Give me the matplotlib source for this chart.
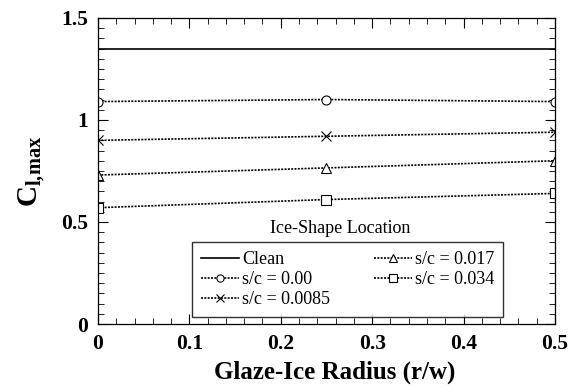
import matplotlib.pyplot as plt
from matplotlib.ticker import MultipleLocator, FuncFormatter

# data
radius = [0.0, 0.25, 0.5]
clean = [1.35, 1.35, 1.35]
sc_000 = [1.09, 1.10, 1.09]
sc_0085 = [0.90, 0.92, 0.94]
sc_017 = [0.73, 0.765, 0.80]
sc_034 = [0.57, 0.61, 0.64]

plt.rcParams['font.family'] = ['Liberation Serif', 'DejaVu Serif']
plt.rcParams['mathtext.fontset'] = 'custom'
plt.rcParams['mathtext.rm'] = 'Liberation Serif'
plt.rcParams['mathtext.bf'] = 'Liberation Serif:bold'

fig = plt.figure(figsize=(5.83, 3.89), dpi=100)
ax = fig.add_axes([0.168, 0.167, 0.784, 0.787])

mk = dict(color='black', mfc='white', ms=6.5, mew=0.8, lw=1.2, ls=(0, (1.2, 0.8)))
ax.plot([0, 0.5], [clean[0], clean[-1]], color='black', lw=1.2, label='Clean')
ax.plot(radius, sc_000, marker='o', label='s/c = 0.00', **mk)
ax.plot(radius, sc_0085, marker='x', label='s/c = 0.0085', **mk)
ax.plot(radius, sc_017, marker='^', label='s/c = 0.017', **mk)
ax.plot(radius, sc_034, marker='s', label='s/c = 0.034', **mk)

ax.set_xlim(0, 0.5)
ax.set_ylim(0, 1.5)
ax.xaxis.set_major_locator(MultipleLocator(0.1))
ax.xaxis.set_minor_locator(MultipleLocator(0.02))
ax.yaxis.set_major_locator(MultipleLocator(0.5))
ax.yaxis.set_minor_locator(MultipleLocator(0.05))
fmt = FuncFormatter(lambda v, p: '%g' % round(v, 3))
ax.xaxis.set_major_formatter(fmt)
ax.yaxis.set_major_formatter(fmt)
ax.tick_params(which='both', direction='in', top=True, right=True)
ax.tick_params(which='major', length=7, width=0.8, labelsize=15.5, pad=7)
ax.tick_params(which='minor', length=4, width=0.6)
for lab in ax.get_xticklabels() + ax.get_yticklabels():
    lab.set_fontweight('bold')
for s in ax.spines.values():
    s.set_linewidth(0.9)

ax.set_xlabel('Glaze-Ice Radius (r/w)', fontsize=18, fontweight='bold', labelpad=5)
ax.xaxis.label.set_x(0.518)
ax.set_ylabel(r'$\mathbf{C_{l{,}max}}$', fontsize=21, labelpad=10)

leg = ax.legend(loc='lower left', bbox_to_anchor=(0.206, 0.023, 0.68, 0.25), mode='expand',
                ncol=2, fontsize=13, frameon=True, fancybox=False, edgecolor='black',
                handlelength=2.1, borderpad=0.5, labelspacing=0.16, columnspacing=0.6,
                handletextpad=0.15, borderaxespad=0.0, markerscale=0.8)
leg.get_frame().set_linewidth(1.0)
ax.text(0.53, 0.297, 'Ice-Shape Location', transform=ax.transAxes, ha='center',
        va='baseline', fontsize=13)

fig.savefig('out.png', dpi=100)
